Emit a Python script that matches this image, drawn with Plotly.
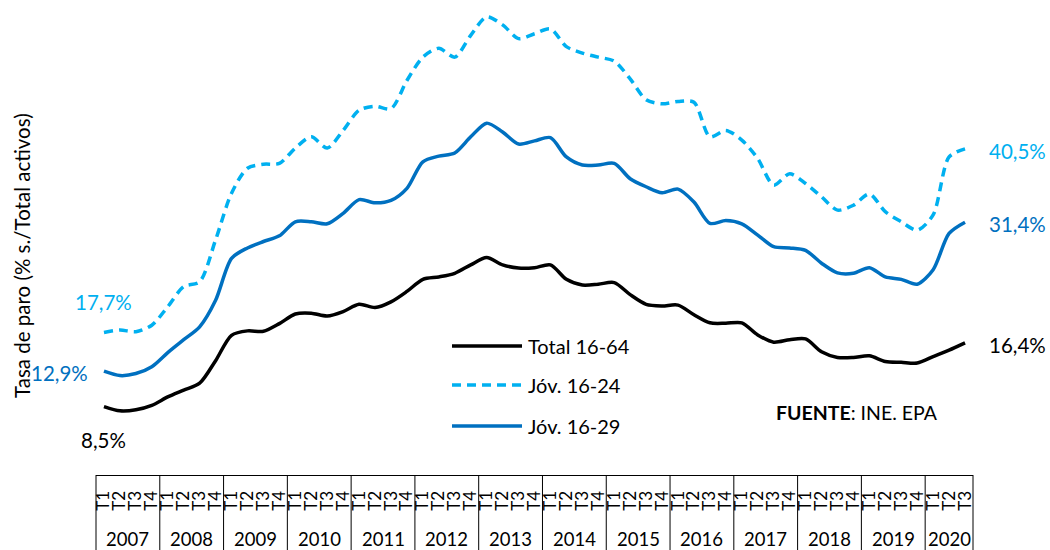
import plotly.graph_objects as go

years = ["2007", "2008", "2009", "2010", "2011", "2012", "2013",
         "2014", "2015", "2016", "2017", "2018", "2019", "2020"]
quarters_per_year = [4, 4, 4, 4, 4, 4, 4, 4, 4, 4, 4, 4, 4, 3]
quarter_labels = [f"T{q+1}" for n in quarters_per_year for q in range(n)]

total_16_64 = [8.5, 7.97, 8.1, 8.65, 9.7, 10.55, 11.4, 14.2, 17.35, 17.9, 17.85, 18.8,
               20.0, 20.1, 19.75, 20.3, 21.2, 20.8, 21.5, 22.8, 24.3, 24.6, 25.05, 26.1,
               27.0, 26.1, 25.7, 25.75, 26.1, 24.3, 23.6, 23.7, 23.9, 22.4, 21.2, 21.0,
               21.1, 19.9, 18.9, 18.85, 18.9, 17.4, 16.5, 16.8, 16.9, 15.3, 14.6, 14.6,
               14.8, 14.1, 14.0, 13.9, 14.7, 15.5, 16.4]
jov_16_24 = [17.7, 18.0, 17.8, 18.6, 20.9, 23.4, 24.0, 29.2, 35.0, 38.1, 38.6, 38.7,
             40.6, 42.0, 40.6, 42.8, 45.3, 45.8, 45.5, 49.0, 51.9, 53.0, 51.9, 54.6,
             56.9, 55.9, 54.2, 54.8, 55.4, 53.2, 52.4, 51.9, 51.4, 49.2, 46.6, 46.1,
             46.4, 46.3, 42.0, 42.8, 41.6, 39.3, 36.0, 37.4, 36.2, 34.55, 32.9, 33.5,
             34.9, 32.7, 31.45, 30.4, 32.3, 39.5, 40.5]
jov_16_29 = [12.9, 12.35, 12.6, 13.45, 15.2, 16.8, 18.4, 21.7, 26.9, 28.2, 29.0, 29.7,
             31.45, 31.45, 31.2, 32.5, 34.2, 33.8, 34.1, 35.6, 38.9, 39.6, 40.0, 42.0,
             43.7, 42.6, 41.1, 41.5, 41.9, 39.5, 38.5, 38.5, 38.7, 36.8, 35.8, 35.05,
             35.5, 33.9, 31.25, 31.6, 31.2, 29.8, 28.35, 28.2, 27.9, 26.3, 25.1, 25.05,
             25.75, 24.6, 24.3, 23.7, 25.5, 30.0, 31.4]

series_names = ["Total 16-64", "Jóv. 16-24", "Jóv. 16-29"]
colors = ["#000000", "#00B0F0", "#0070C0"]
end_labels = ["16,4%", "40,5%", "31,4%"]
start_labels = ["8,5%", "17,7%", "12,9%"]

FONT = "Lato"
W, H = 1050, 550
L, R, T, B = 96, 77, 8, 75
PW, PH = W - L - R, H - T - B
X_RANGE = [-0.5, len(quarter_labels) - 0.5]
Y_RANGE = [0, 58]

def pxx(px):
    return (px - L) / PW

def pxy(py):
    return (H - B - py) / PH

x = list(range(len(quarter_labels)))

fig = go.Figure()
dashes = ["solid", "9px,6px", "solid"]
for name, vals, col, dsh in zip(series_names, [total_16_64, jov_16_24, jov_16_29], colors, dashes):
    fig.add_trace(go.Scatter(x=x, y=vals, mode="lines", name=name,
                             line=dict(color=col, width=3.5, dash=dsh, shape="spline", smoothing=0.8),
                             showlegend=False, hoverinfo="skip"))

annotations = []
shapes = []

LBL = 20.5
starts = [(total_16_64[0], 0, -33), (jov_16_24[0], 0, 30), (jov_16_29[0], -44, -2)]
for (val, xs, ys), txt, col in zip(starts, start_labels, colors):
    annotations.append(dict(x=x[0], y=val, xref="x", yref="y", text=txt, showarrow=False,
                            xshift=xs, yshift=ys, font=dict(family=FONT, size=LBL, color=col)))
ends = [total_16_64[-1], jov_16_24[-1], jov_16_29[-1]]
for val, txt, col in zip(ends, end_labels, colors):
    annotations.append(dict(x=x[-1], y=val, xref="x", yref="y", text=txt, showarrow=False,
                            xshift=22, xanchor="left", yshift=-2,
                            font=dict(family=FONT, size=LBL, color=col)))

leg_y = [346, 385, 426]
for name, col, dsh, py in zip(series_names, colors, ["solid", "9px,6px", "solid"], leg_y):
    shapes.append(dict(type="line", xref="paper", yref="paper", x0=pxx(452), x1=pxx(522),
                       y0=pxy(py), y1=pxy(py), line=dict(color=col, width=3.5, dash=dsh)))
    annotations.append(dict(x=pxx(526), y=pxy(py), xref="paper", yref="paper", text=name,
                            showarrow=False, xanchor="left", yanchor="middle",
                            font=dict(family=FONT, size=20, color="#000000")))

annotations.append(dict(x=pxx(774), y=pxy(412), xref="paper", yref="paper",
                        text="<b>FUENTE</b>: INE. EPA", showarrow=False, xanchor="left",
                        yanchor="middle", font=dict(family=FONT, size=19.5, color="#000000")))

annotations.append(dict(x=pxx(22), y=pxy(256), xref="paper", yref="paper",
                        text="Tasa de paro (% s./Total activos)", textangle=-90, showarrow=False,
                        xanchor="center", yanchor="middle",
                        font=dict(family=FONT, size=20.5, color="#000000")))

span = X_RANGE[1] - X_RANGE[0]
start = 0
bounds = [X_RANGE[0]]
for yr, n in zip(years, quarters_per_year):
    center = start + (n - 1) / 2
    annotations.append(dict(x=center, y=pxy(526), xref="x", yref="paper", text=yr,
                            showarrow=False, yanchor="top",
                            font=dict(family=FONT, size=18.5, color="#000000")))
    start += n
    bounds.append(start - 0.5)
for b in bounds:
    xp = (b - X_RANGE[0]) / span
    shapes.append(dict(type="line", xref="paper", yref="paper", x0=xp, x1=xp,
                       y0=0, y1=pxy(H + 5), line=dict(color="#000000", width=1)))

fig.update_layout(
    width=W, height=H, margin=dict(l=L, r=R, t=T, b=B, autoexpand=False),
    paper_bgcolor="white", plot_bgcolor="white",
    xaxis=dict(range=X_RANGE, tickmode="array", tickvals=x, ticktext=quarter_labels,
               tickangle=-90, ticks="", ticklabelstandoff=8, showgrid=False, zeroline=False,
               showline=True, linecolor="#000000", linewidth=1,
               tickfont=dict(family=FONT, size=17, color="#000000"), fixedrange=True),
    yaxis=dict(range=Y_RANGE, visible=False, fixedrange=True),
    annotations=annotations, shapes=shapes, showlegend=False,
)

fig.write_html("out.html", config={"displayModeBar": False},
               post_script="document.body.style.margin='0px';document.body.style.overflow='hidden';")
